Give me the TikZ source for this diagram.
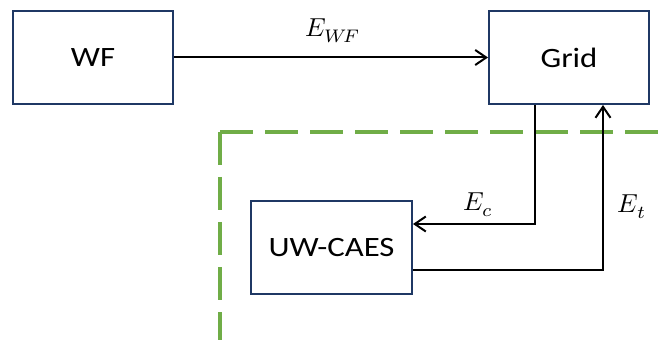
\documentclass[tikz,border=0pt]{standalone}
\usepackage{fontspec}
\usepackage{unicode-math}
\DeclareMathSizes{10}{10}{7.8}{6}
\newfontfamily\boxfont[FakeStretch=1.17]{Carlito}
\usetikzlibrary{arrows.meta,calc}
\definecolor{boxline}{HTML}{1F3864}
\definecolor{zonegreen}{HTML}{70AD47}
\newcommand{\biglbl}[1]{\scalebox{2.6}{$#1$}}
\tikzset{
  blk/.style={draw=boxline, line width=2pt, fill=white, rectangle, inner sep=0pt,
    font=\boxfont\fontsize{28}{32}\selectfont},
  flow/.style={draw=black, line width=2pt, -{Straight Barb[length=11pt,width=15pt,line width=2pt]}},
  zone/.style={draw=zonegreen, line width=3.3pt, dash pattern=on 33pt off 12pt},
  lbl/.style={inner sep=0pt}
}
\begin{document}
\begin{tikzpicture}[x=1pt,y=-1pt]
\useasboundingbox (0,0) rectangle (662,350);
\draw[zone] (220,132) -- (220,340);
\draw[zone] (220,132) -- (662,132);
\node[blk, minimum width=160pt, minimum height=93pt] (wf) at (93,57.5) {WF};
\node[blk, minimum width=160pt, minimum height=93pt] (grid) at (569,57.5) {Grid};
\node[blk, minimum width=161pt, minimum height=93pt] (uw) at (331.5,247.5) {UW-CAES};
\draw[flow] (wf.east) -- (grid.west);
\coordinate (gc) at ($(grid.south west)+(47,0)$);
\coordinate (gt) at ($(grid.south west)+(115,0)$);
\coordinate (uc) at ($(uw.east)+(0,-23.5)$);
\coordinate (ut) at ($(uw.east)+(0,22.5)$);
\draw[flow] (gc) |- (uc);
\draw[flow] (ut) -| (gt);
\node[lbl] (ewf) at (333,31) {\biglbl{E_{W\!F}}};
\node[lbl] (ec) at (478,205) {\biglbl{E_c}};
\node[lbl] (et) at (632,207) {\biglbl{E_t}};
\end{tikzpicture}
\end{document}
